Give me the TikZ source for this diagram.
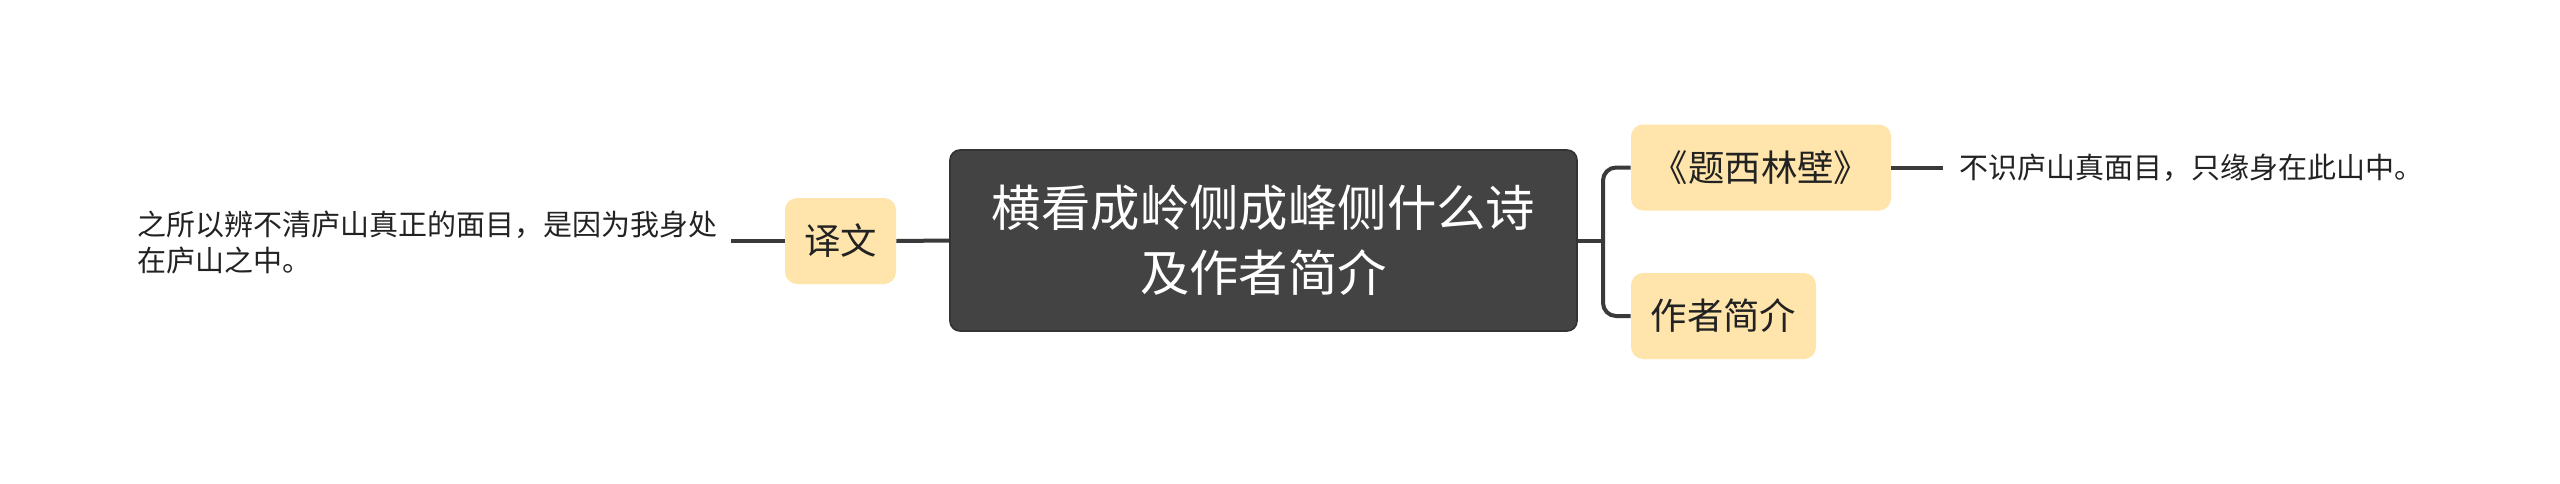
\documentclass[tikz,border=0pt]{standalone}
\usepackage{fontspec}
\setmainfont{Noto Sans CJK SC}
\definecolor{centralfill}{HTML}{434343}
\definecolor{centraldraw}{HTML}{333333}
\definecolor{topicfill}{HTML}{FFE5AB}
\definecolor{linecol}{HTML}{3A3A3A}
\definecolor{txtcol}{HTML}{222222}
\tikzset{
  central/.style={fill=centralfill, draw=centraldraw, line width=0.8pt, rounded corners=5pt,
    text=white, align=center, inner sep=0pt, minimum width=313.5pt, minimum height=90.5pt,
    font=\fontsize{24.7pt}{32.5pt}\selectfont},
  topic/.style={fill=topicfill, draw=none, rounded corners=6pt, text=txtcol, inner sep=0pt,
    minimum height=43pt, font=\fontsize{18.2pt}{22pt}\selectfont},
  leaf/.style={text=txtcol, align=left, inner sep=0pt, font=\fontsize{14.5pt}{18pt}\selectfont},
  conn/.style={draw=linecol, line width=2pt}
}
\begin{document}
\begin{tikzpicture}[x=0.5pt, y=-0.5pt]
\useasboundingbox (0,0) rectangle (2560,483);
\node[central] (main) at (1263.5,240.5) {横看成岭侧成峰侧什么诗\\及作者简介};
\node[topic, minimum width=55.5pt] (yiwen) at (840.5,241) {译文};
\node[topic, minimum width=130pt] (title) at (1761,167.5) {《题西林壁》};
\node[topic, minimum width=92.5pt] (author) at (1723.5,316) {作者简介};
\node[leaf, anchor=east] (lefttext) at (718,243) {之所以辨不清庐山真正的面目，是因为我身处\\在庐山之中。};
\node[leaf, anchor=west] (righttext) at (1959,168) {不识庐山真面目，只缘身在此山中。};
\coordinate (lend) at (731,241);
\coordinate (rend) at (1943,167.5);
\coordinate (br) at (1603,240.5);
\draw[conn] (main.west) -- (yiwen.east);
\draw[conn] (yiwen.west) -- (lend);
\draw[conn] (main.east) -- (br);
\draw[conn, rounded corners=6.5pt] (title.west) -| (br) |- (author.west);
\draw[conn] (title.east) -- (rend);
\end{tikzpicture}
\end{document}
